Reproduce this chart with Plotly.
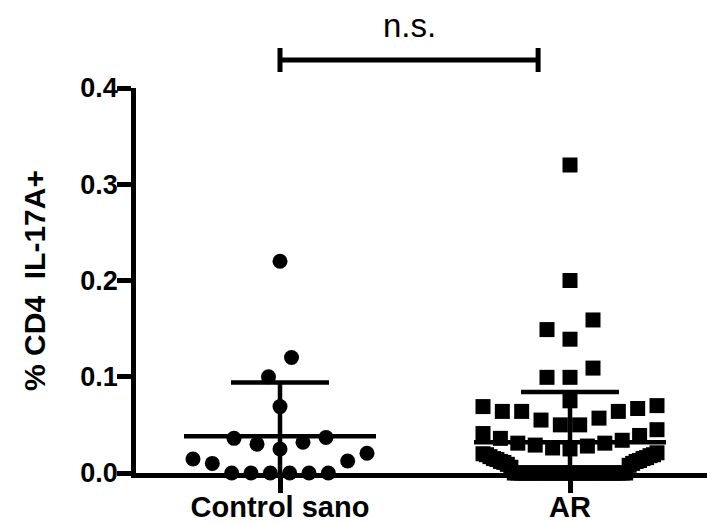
import numpy as np
import plotly.graph_objects as go

# ---------------- data ----------------
groups = ["Control sano", "AR"]

control_sano = [0.22, 0.12, 0.10, 0.069, 0.036, 0.037, 0.030, 0.032, 0.025,
                0.0145, 0.010, 0.0125, 0.0205,
                0.0, 0.0, 0.0, 0.0, 0.0, 0.0]

ar_high = [0.32, 0.20, 0.159, 0.149, 0.139, 0.109, 0.0994, 0.0994, 0.075]
ar_mid = [0.050, 0.050, 0.055, 0.057, 0.064, 0.064, 0.064, 0.067, 0.069, 0.070,
          0.025, 0.026, 0.028, 0.029, 0.031, 0.031, 0.034, 0.036, 0.039, 0.041, 0.045]
ar_low = [0.006, 0.008, 0.009, 0.010, 0.011, 0.012, 0.012, 0.013, 0.014, 0.015,
          0.015, 0.016, 0.017, 0.018, 0.019, 0.019, 0.020, 0.021]
ar_zero = [0.0] * 33
ar = ar_high + ar_mid + ar_low + ar_zero

y_ticks = [0.0, 0.1, 0.2, 0.3, 0.4]
y_ticktext = ["0.0", "0.1", "0.2", "0.3", "0.4"]
y_title = "% CD4\u00a0\u00a0IL-17A+"
sig_text = "n.s."

# ---------------- layout constants ----------------
W, H = 707, 523
ML, MR, MT, MB = 136, 0, 88, 50
PX_PER_UNIT = 290.0          # horizontal pixels between the two groups
plot_w = W - ML - MR
plot_h = H - MT - MB
x0 = -(280 - ML) / PX_PER_UNIT
x1 = x0 + plot_w / PX_PER_UNIT
y_range = [0.0, 0.4]

MARK = 15
ROW_H = 0.024                # value band that forms one swarm row
S_MAX = 23.0                 # max spacing (px) inside a row
ROW_W = 174.0                # max spread (px) of a row


def swarm(values):
    """GraphPad-like scatter: rows of similar values, lowest value at centre."""
    vals = np.asarray(values, dtype=float)
    order = np.argsort(vals, kind="stable")
    offs = np.zeros(len(vals))
    i = 0
    while i < len(order):
        start = vals[order[i]]
        j = i
        while j < len(order) and vals[order[j]] < start + ROW_H:
            j += 1
        idx = order[i:j]
        n = len(idx)
        s = S_MAX if n < 2 else min(S_MAX, ROW_W / (n - 1))
        slots = []
        if n % 2 == 1:
            slots.append(0.0)
            k = 1
            while len(slots) < n:
                slots += [-k * s, k * s]
                k += 1
        else:
            k = 0
            while len(slots) < n:
                slots += [-(k + 0.5) * s, (k + 0.5) * s]
                k += 1
        for m, p in zip(idx, slots[:n]):
            offs[m] = p / PX_PER_UNIT
        i = j
    return offs


fig = go.Figure()
datasets = [control_sano, ar]
symbols = ["circle", "square"]

for g, (vals, sym) in enumerate(zip(datasets, symbols)):
    offs = swarm(vals)
    fig.add_trace(go.Scatter(
        x=g + offs, y=vals, mode="markers",
        marker=dict(symbol=sym, size=MARK, color="black", line=dict(width=0)),
        cliponaxis=False, showlegend=False, hoverinfo="skip"))

LW = 4.5
MEAN_HALF = 96 / PX_PER_UNIT
CAP_HALF = 49 / PX_PER_UNIT
for g, vals in enumerate(datasets):
    v = np.asarray(vals)
    m = v.mean()
    sd = v.std(ddof=1)
    line = dict(color="black", width=LW)
    fig.add_trace(go.Scatter(x=[g, g], y=[m - sd, m + sd], mode="lines", line=line,
                             showlegend=False, hoverinfo="skip"))
    fig.add_trace(go.Scatter(x=[g - CAP_HALF, g + CAP_HALF], y=[m + sd, m + sd],
                             mode="lines", line=line, showlegend=False, hoverinfo="skip"))
    fig.add_trace(go.Scatter(x=[g - CAP_HALF, g + CAP_HALF], y=[m - sd, m - sd],
                             mode="lines", line=line, showlegend=False, hoverinfo="skip"))
    fig.add_trace(go.Scatter(x=[g - MEAN_HALF, g + MEAN_HALF], y=[m, m],
                             mode="lines", line=line, showlegend=False, hoverinfo="skip"))

# significance bracket (paper coordinates derived from the axis range)
def px(xv):
    return (xv - x0) / (x1 - x0)

def py_pix(ypix):
    return (H - MB - ypix) / plot_h

bx0, bx1 = px(0.0), px(0.89)
by = py_pix(60)
bt, bb = py_pix(48), py_pix(72)
br = dict(color="black", width=5)
fig.add_shape(type="line", xref="paper", yref="paper", x0=bx0, x1=bx1, y0=by, y1=by, line=br)
fig.add_shape(type="line", xref="paper", yref="paper", x0=bx0, x1=bx0, y0=bb, y1=bt, line=br)
fig.add_shape(type="line", xref="paper", yref="paper", x0=bx1, x1=bx1, y0=bb, y1=bt, line=br)
fig.add_annotation(text=sig_text, xref="paper", yref="paper", x=(bx0 + bx1) / 2,
                   y=py_pix(25), showarrow=False, xanchor="center", yanchor="middle",
                   font=dict(family="Liberation Sans, Arial", size=33, color="black"))

FONT = "Liberation Sans, Arial"
fig.update_layout(
    width=W, height=H,
    margin=dict(l=ML, r=MR, t=MT, b=MB, pad=0, autoexpand=False),
    plot_bgcolor="white", paper_bgcolor="white",
    showlegend=False, hovermode=False,
    xaxis=dict(range=[x0, x1], tickvals=[0, 1], ticktext=groups, automargin=False,
               ticks="outside", ticklen=15, tickwidth=LW, tickcolor="black",
               showline=True, linewidth=LW, linecolor="black",
               showgrid=False, zeroline=False, ticklabelstandoff=-11,
               tickfont=dict(family=FONT, size=29, color="black", weight="bold")),
    yaxis=dict(range=y_range, tickvals=y_ticks, ticktext=y_ticktext, automargin=False,
               ticks="outside", ticklen=14, tickwidth=LW, tickcolor="black",
               showline=True, linewidth=LW, linecolor="black",
               showgrid=False, zeroline=False, ticklabelstandoff=-6,
               tickfont=dict(family=FONT, size=27, color="black", weight="bold"),
               title=dict(text=y_title, standoff=27,
                          font=dict(family=FONT, size=30, color="black", weight="bold"))),
)

fig.write_html("out.html")
